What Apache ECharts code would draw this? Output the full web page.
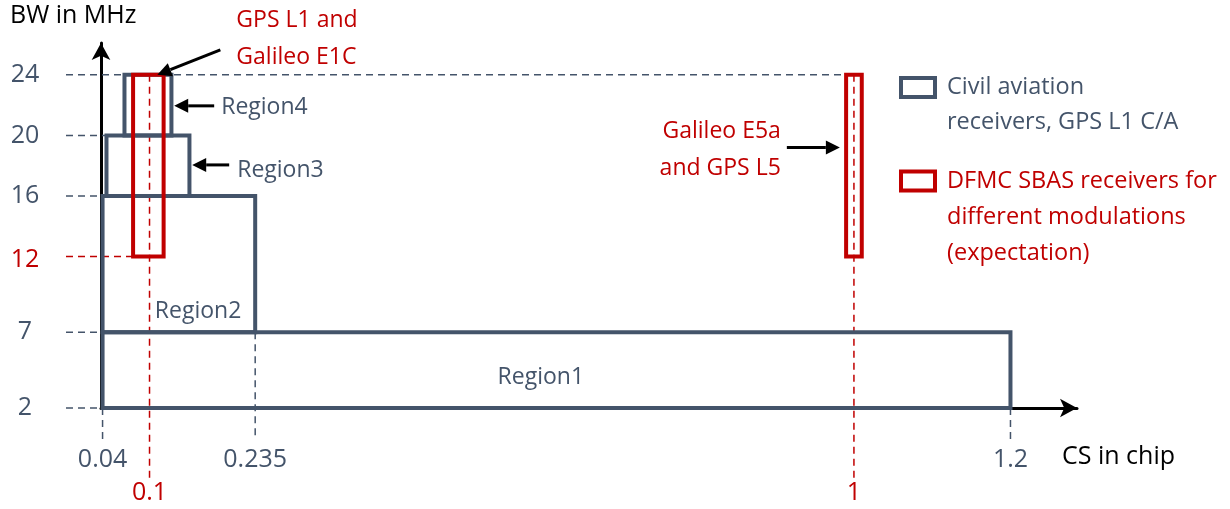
<!DOCTYPE html>
<html>
<head>
<meta charset="utf-8">
<script src="https://cdn.jsdelivr.net/npm/echarts@6/dist/echarts.min.js"></script>
<style>
  html, body { margin: 0; padding: 0; background: #fff; }
  #chartBox { width: 1230px; height: 509px; }
</style>
</head>
<body>
<div id="chartBox"></div>
<script>
// axis ticks
const csTicks = [0.04, 0.235, 1.2];
const csTicksRed = [0.1, 1];
const bwTicks = [2, 7, 12, 16, 20, 24];
const bwTickRed = 12;

// civil aviation regions (CS in chip x BW in MHz)
const regionNames = ["Region1", "Region2", "Region3", "Region4"];
const regionCsMin = [0.04, 0.04, 0.045, 0.068];
const regionCsMax = [1.2, 0.235, 0.151, 0.128];
const regionBwMin = [2, 7, 16, 20];
const regionBwMax = [7, 16, 20, 24];

// DFMC SBAS expectation boxes
const dfmcNames = ["GPS L1 and\nGalileo E1C", "Galileo E5a\nand GPS L5"];
const dfmcCsMin = [0.079, 0.99];
const dfmcCsMax = [0.118, 1.01];
const dfmcBwMin = [12, 12];
const dfmcBwMax = [24, 24];

// where dashed guide lines stop / start
const bwGuideEnd = [0.04, 0.04, 0.079, 0.04, 0.045, 0.99];
const csGuideStart = [2, 7, 2];
const csRedGuideStart = [24, 24];

const GREY = "#44546a";
const RED = "#c00000";
const FONT = "Open Sans";
const civilName = "Civil aviation\nreceivers, GPS L1 C/A";
const dfmcName = "DFMC SBAS receivers for\ndifferent modulations\n(expectation)";

const regionData = regionNames.map((n, i) => [regionCsMin[i], regionCsMax[i], regionBwMin[i], regionBwMax[i]]);
const dfmcData = dfmcNames.map((n, i) => [dfmcCsMin[i], dfmcCsMax[i], dfmcBwMin[i], dfmcBwMax[i]]);

const guideH = bwTicks.map((v, i) => [v, bwGuideEnd[i], v === bwTickRed ? 1 : 0]);
const guideV = csTicks.map((v, i) => [v, csGuideStart[i], 0])
  .concat(csTicksRed.map((v, i) => [v, csRedGuideStart[i], 1]));

// annotations: arrow tip in data units, tail offset in px, text placement
const annotations = [
  { text: dfmcNames[0], tip: [0.11, 24], dx: 63, dy: -25, color: RED, tx: 16, ty: -11, align: "left" },
  { text: dfmcNames[1], tip: [0.982, 19.2], dx: -53, dy: 0, color: RED, tx: -6, ty: 2, align: "right" },
  { text: regionNames[3], tip: [0.1315, 21.95], dx: 40, dy: 0, color: GREY, tx: 7, ty: 2, align: "left" },
  { text: regionNames[2], tip: [0.1545, 18.05], dx: 37, dy: 0, color: GREY, tx: 8, ty: 6, align: "left" },
  { text: regionNames[0], tip: [0.6, 4], color: GREY, align: "center" },
  { text: regionNames[1], tip: [0.162, 8.4], color: GREY, align: "center" }
];

function rectItem(color, width) {
  return function (params, api) {
    const p0 = api.coord([api.value(0), api.value(3)]);
    const p1 = api.coord([api.value(1), api.value(2)]);
    return {
      type: "rect",
      shape: { x: p0[0], y: p0[1], width: p1[0] - p0[0], height: p1[1] - p0[1] },
      style: { fill: "none", stroke: color, lineWidth: width }
    };
  };
}

const option = {
  animation: false,
  textStyle: { fontFamily: FONT },
  grid: { left: 101, right: 153, top: 43, bottom: 101 },
  xAxis: [
    {
      type: "value", min: 0.038, max: 1.285,
      splitLine: { show: false }, axisTick: { show: false },
      axisLine: { lineStyle: { color: "#000", width: 3 }, symbol: ["none", "arrow"], symbolSize: [14, 17] },
      axisLabel: { customValues: csTicks, color: GREY, fontSize: 25, margin: 52, verticalAlign: "middle", fontFamily: FONT }
    },
    {
      type: "value", min: 0.038, max: 1.285, position: "bottom",
      splitLine: { show: false }, axisTick: { show: false }, axisLine: { show: false },
      axisLabel: { customValues: csTicksRed, color: RED, fontSize: 25, margin: 85, verticalAlign: "middle", fontFamily: FONT }
    }
  ],
  yAxis: {
    type: "value", min: 2, max: 26.1,
    splitLine: { show: false }, axisTick: { show: false },
    axisLine: { lineStyle: { color: "#000", width: 3 }, symbol: ["none", "arrow"], symbolSize: [14, 17] },
    axisLabel: {
      customValues: bwTicks, color: GREY, fontSize: 25, margin: 76, align: "center", fontFamily: FONT,
      formatter: v => v === bwTickRed ? "{r|" + v + "}" : String(v),
      rich: { r: { color: RED, fontSize: 25, fontFamily: FONT, padding: [6, 0, 0, 0] } }
    }
  },
  legend: [
    {
      data: [{ name: civilName, icon: "rect", itemStyle: { color: "#fff", borderColor: GREY, borderWidth: 4 } }],
      formatter: name => "\n" + name,
      left: 899, top: 35, padding: 0, itemWidth: 34, itemHeight: 19, selectedMode: false,
      textStyle: { color: GREY, fontSize: 23.5, lineHeight: 35, padding: [0, 0, 0, 7], fontFamily: FONT }
    },
    {
      data: [{ name: dfmcName, icon: "rect", itemStyle: { color: "#fff", borderColor: RED, borderWidth: 4 } }],
      formatter: name => "\n\n" + name,
      left: 899, top: 91, padding: 0, itemWidth: 34, itemHeight: 19, selectedMode: false,
      textStyle: { color: RED, fontSize: 23.5, lineHeight: 36, padding: [0, 0, 0, 7], fontFamily: FONT }
    }
  ],
  graphic: [
    { type: "text", left: 10, top: 3, style: { text: "BW in MHz", fill: "#000", font: "25px 'Open Sans'" } },
    { type: "text", left: 1062, top: 444, style: { text: "CS in chip", fill: "#000", font: "25px 'Open Sans'" } }
  ],
  series: [
    {
      name: "guidesH", type: "custom", data: guideH, z: 1, silent: true,
      renderItem: function (params, api) {
        const p = api.coord([api.value(1), api.value(0)]);
        const red = api.value(2) === 1;
        return {
          type: "line",
          shape: { x1: params.coordSys.x - 35, y1: p[1], x2: p[0], y2: p[1] },
          style: { stroke: red ? RED : GREY, lineWidth: 1.5, lineDash: [7, 5] }
        };
      }
    },
    {
      name: "guidesV", type: "custom", data: guideV, z: 1, silent: true,
      renderItem: function (params, api) {
        const p = api.coord([api.value(0), api.value(1)]);
        const red = api.value(2) === 1;
        const bottom = params.coordSys.y + params.coordSys.height + (red ? 70 : 32);
        return {
          type: "line",
          shape: { x1: p[0], y1: p[1], x2: p[0], y2: bottom },
          style: { stroke: red ? RED : GREY, lineWidth: 1.5, lineDash: [7, 5] }
        };
      }
    },
    { name: civilName, type: "custom", data: regionData, z: 3, renderItem: rectItem(GREY, 4), itemStyle: { color: GREY } },
    { name: dfmcName, type: "custom", data: dfmcData, z: 4, renderItem: rectItem(RED, 4), itemStyle: { color: RED } },
    {
      name: "annotations", type: "custom", data: annotations.map(a => a.tip), z: 5, silent: true,
      renderItem: function (params, api) {
        const a = annotations[params.dataIndex];
        const tip = api.coord([api.value(0), api.value(1)]);
        const children = [];
        let tx = tip[0], ty = tip[1];
        if (a.dx !== undefined) {
          const tail = [tip[0] + a.dx, tip[1] + a.dy];
          const len = Math.hypot(a.dx, a.dy);
          const ux = a.dx / len, uy = a.dy / len;
          const base = [tip[0] + ux * 14, tip[1] + uy * 14];
          children.push({ type: "line", shape: { x1: tail[0], y1: tail[1], x2: base[0], y2: base[1] }, style: { stroke: "#000", lineWidth: 3 } });
          children.push({
            type: "polygon",
            shape: { points: [tip, [base[0] - uy * 7, base[1] + ux * 7], [base[0] + uy * 7, base[1] - ux * 7]] },
            style: { fill: "#000" }
          });
          tx = tail[0] + a.tx;
          ty = tail[1] + a.ty;
        }
        children.push({
          type: "text",
          style: {
            text: a.text, x: tx, y: ty, fill: a.color,
            fontSize: 23, fontFamily: FONT, lineHeight: 37,
            align: a.align, verticalAlign: "middle", textAlign: a.align, textVerticalAlign: "middle"
          }
        });
        return { type: "group", children: children };
      }
    }
  ]
};

const chart = echarts.init(document.getElementById("chartBox"));
chart.setOption(option);
</script>
</body>
</html>
